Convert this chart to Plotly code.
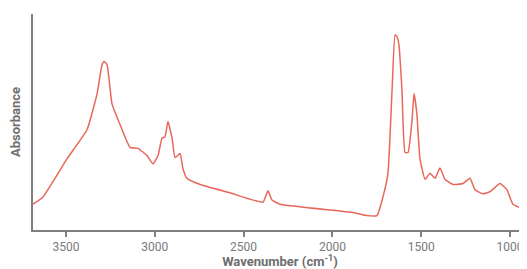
import plotly.graph_objects as go

wavenumber = [3686, 3630, 3494, 3382, 3325, 3297, 3286, 3269, 3241, 3196, 3140, 3095, 3044, 3010,
              2982, 2959, 2943, 2926, 2903, 2886, 2858, 2841, 2819, 2745, 2577, 2391, 2363, 2340,
              2295, 1884, 1805, 1749, 1715, 1687, 1664, 1647, 1636, 1625, 1608, 1591, 1574, 1552,
              1540, 1524, 1507, 1478, 1450, 1422, 1394, 1366, 1321, 1264, 1225, 1197, 1152, 1113,
              1056, 1017, 983, 904]
absorbance = [0.125, 0.16, 0.345, 0.485, 0.66, 0.80, 0.815, 0.80, 0.61, 0.51, 0.40, 0.395, 0.36, 0.32,
              0.36, 0.445, 0.45, 0.525, 0.445, 0.35, 0.37, 0.295, 0.25, 0.22, 0.18, 0.135, 0.19, 0.145,
              0.125, 0.085, 0.07, 0.07, 0.16, 0.275, 0.675, 0.945, 0.935, 0.895, 0.675, 0.375, 0.375, 0.525,
              0.66, 0.56, 0.345, 0.245, 0.275, 0.25, 0.30, 0.245, 0.22, 0.225, 0.25, 0.195, 0.175, 0.185,
              0.225, 0.195, 0.125, 0.095]
tick_values = [3500, 3000, 2500, 2000, 1500, 1000]
tick_labels = ["3500", "3000", "2500", "2000", "1500", "1000"]

fig = go.Figure()
fig.add_trace(go.Scatter(
    x=wavenumber, y=absorbance, mode="lines",
    line=dict(color="#e8675a", width=1.5, shape="spline", smoothing=0.4),
    hoverinfo="skip", showlegend=False,
))

# page body has an 8px default margin, so the figure is sized to fill the rest of the window
fig.update_layout(
    width=519, height=261,
    margin=dict(l=25, r=0, t=6, b=39),
    paper_bgcolor="white", plot_bgcolor="white",
    font=dict(family="Roboto, Liberation Sans Narrow, Arial", color="#777777"),
    xaxis=dict(
        range=[3686, 904], tickvals=tick_values, ticktext=tick_labels,
        showgrid=False, zeroline=False, showline=True, linecolor="#808080", linewidth=1.5,
        ticks="outside", ticklen=5, tickcolor="#808080", tickwidth=1.5,
        tickfont=dict(size=12, color="#7a7a7a"), automargin=False,
        title=dict(text="<b>Wavenumber (cm<sup>-1</sup>)</b>", font=dict(size=13, color="#6e6e6e"), standoff=1),
    ),
    yaxis=dict(
        range=[0, 1.045], showticklabels=False, ticks="",
        showgrid=False, zeroline=False, showline=True, linecolor="#808080", linewidth=1.5,
        automargin=False,
        title=dict(text="<b>Absorbance</b>", font=dict(size=13, color="#6e6e6e"), standoff=8),
    ),
)

fig.write_html("out.html")
